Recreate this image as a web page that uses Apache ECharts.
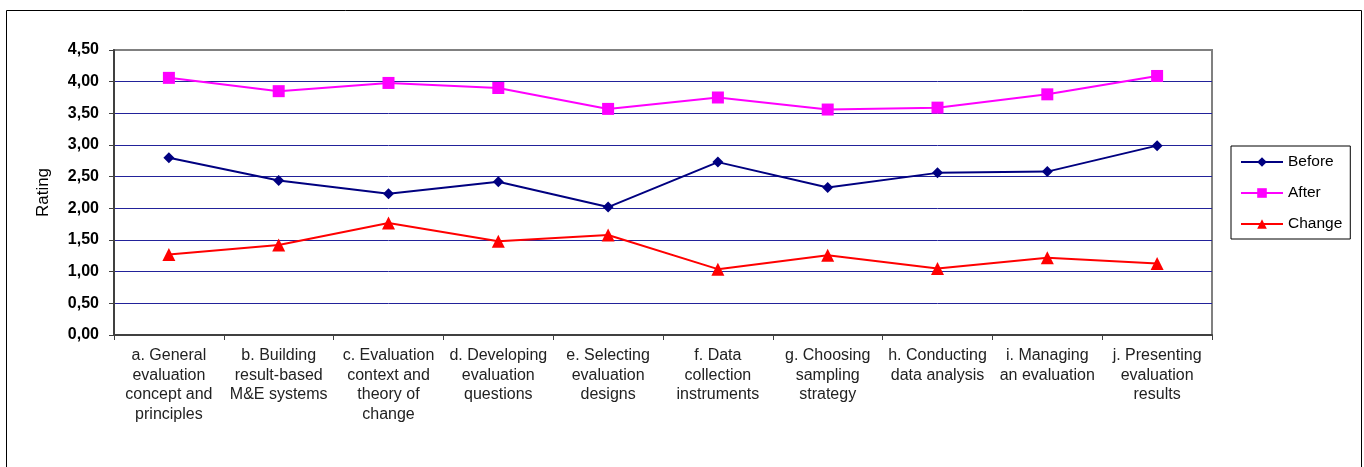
<!DOCTYPE html>
<html><head><meta charset="utf-8">
<script src="https://cdn.jsdelivr.net/npm/echarts@6/dist/echarts.min.js"></script>
<style>html,body{margin:0;padding:0;background:#fff;}#c{width:1364px;height:467px;}</style>
</head><body><div id="c"></div>
<script>
const categories = [
  "a. General\nevaluation\nconcept and\nprinciples",
  "b. Building\nresult-based\nM&E systems",
  "c. Evaluation\ncontext and\ntheory of\nchange",
  "d. Developing\nevaluation\nquestions",
  "e. Selecting\nevaluation\ndesigns",
  "f. Data\ncollection\ninstruments",
  "g. Choosing\nsampling\nstrategy",
  "h. Conducting\ndata analysis",
  "i. Managing\nan evaluation",
  "j. Presenting\nevaluation\nresults"
];
const before = [2.80, 2.44, 2.23, 2.42, 2.02, 2.73, 2.33, 2.56, 2.58, 2.99];
const after  = [4.06, 3.85, 3.98, 3.90, 3.57, 3.75, 3.56, 3.59, 3.80, 4.09];
const change = [1.27, 1.42, 1.77, 1.48, 1.58, 1.04, 1.26, 1.05, 1.22, 1.13];

const chart = echarts.init(document.getElementById('c'), null, {renderer:'canvas'});
const navy = '#22229a';
const gridColors = [navy,navy,navy,navy,navy,navy,navy,navy,navy,'#808080'];
const ff = 'Liberation Sans, Arial, sans-serif';
chart.setOption({
  animation:false,
  textStyle:{fontFamily:ff},
  graphic:[{type:'rect',shape:{x:6.5,y:10.5,width:1355,height:470},style:{fill:'none',stroke:'#000',lineWidth:1},silent:true}],
  grid:{left:114,right:152,top:50,bottom:132,show:true,borderColor:'#808080',borderWidth:2,backgroundColor:'transparent'},
  legend:{
    orient:'vertical', left:1231, top:146, padding:[8,8,7,9],
    borderColor:'#000', borderWidth:1, itemWidth:42, itemHeight:12, itemGap:15,
    textStyle:{fontSize:15.5,color:'#000',fontFamily:ff},
    data:['Before','After','Change']
  },
  xAxis:{
    type:'category', data:categories, boundaryGap:true,
    axisLine:{lineStyle:{color:'#404040',width:2}},
    axisTick:{show:true,length:5,lineStyle:{color:'#404040'}},
    axisLabel:{fontSize:16,color:'#222',lineHeight:19.6,margin:11,interval:0}
  },
  yAxis:{
    type:'value', min:0, max:4.5, interval:0.5,
    name:'Rating', nameLocation:'middle', nameRotate:90, nameGap:62,
    nameTextStyle:{fontSize:17,color:'#000'},
    axisLine:{show:true,lineStyle:{color:'#404040',width:2}},
    axisTick:{show:true,length:5,lineStyle:{color:'#404040'}},
    axisLabel:{fontSize:16,fontWeight:'bold',color:'#000',margin:15,
      formatter:v=>v.toFixed(2).replace('.',',')},
    splitLine:{show:true,lineStyle:{color:gridColors,width:1}}
  },
  series:[
    {name:'Before',type:'line',data:before,symbol:'diamond',symbolSize:11,
     itemStyle:{color:'#000080'},lineStyle:{color:'#000080',width:2}},
    {name:'After',type:'line',data:after,symbol:'rect',symbolSize:12,
     itemStyle:{color:'#ff00ff'},lineStyle:{color:'#ff00ff',width:2}},
    {name:'Change',type:'line',data:change,symbol:'triangle',symbolSize:13,
     itemStyle:{color:'#ff0000'},lineStyle:{color:'#ff0000',width:2}}
  ]
});
</script></body></html>
